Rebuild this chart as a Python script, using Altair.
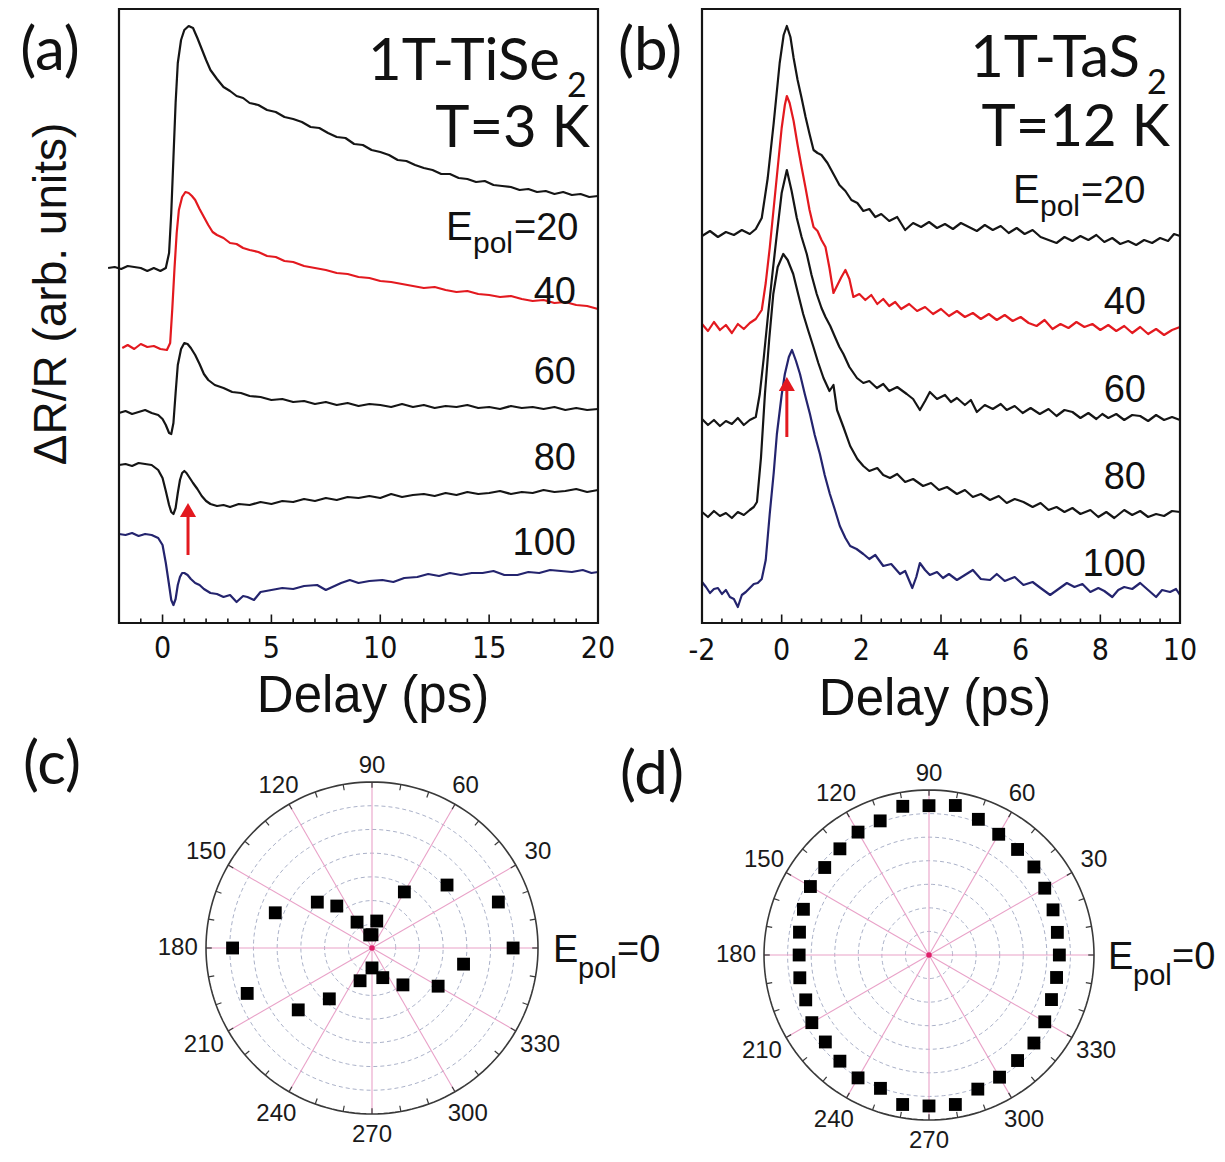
import math
import altair as alt
import pandas as pd

# ---------------- data : panel (a) 1T-TiSe2, T = 3 K  (delay ps, dR/R arb. units incl. offset) ----------------
a0 = [(-2.5,35.5),(-2.2,35.6),(-1.9,35.4),(-1.6,35.7),(-1.3,35.6),(-1.0,35.5),(-0.7,35.2),(-0.4,35.5),(-0.1,35.2),
      (0.15,35.5),(0.3,37.0),(0.4,41.0),(0.5,46.5),(0.6,52.0),(0.7,56.0),(0.85,58.3),(1.0,59.3),(1.2,59.7),(1.4,59.5),
      (1.6,58.5),(1.8,57.4),(2.0,56.3),(2.2,55.3),(2.5,54.4),(2.8,53.6),(3.1,53.2),(3.4,52.7),(3.7,52.5),(4.0,52.0),
      (4.4,51.8),(4.8,51.3),(5.2,51.1),(5.6,50.6),(6.0,50.4),(6.4,50.1),(6.8,49.6),(7.2,49.5),(7.6,49.0),(8.0,48.6),
      (8.4,48.5),(8.8,47.9),(9.2,47.8),(9.6,47.3),(10.0,47.1),(10.4,46.8),(10.8,46.3),(11.2,46.2),(11.6,45.8),(12.0,45.5),
      (12.4,45.3),(12.8,44.9),(13.2,44.9),(13.6,44.5),(14.0,44.4),(14.4,44.1),(14.8,44.2),(15.2,43.8),(15.6,43.7),
      (16.0,43.6),(16.4,43.3),(16.8,43.4),(17.2,43.1),(17.6,43.2),(18.0,42.9),(18.4,43.1),(18.8,42.8),(19.2,42.9),
      (19.6,42.6),(20.0,42.7)]
a1 = [(-1.85,27.5),(-1.6,27.8),(-1.3,27.4),(-1.0,27.9),(-0.7,27.6),(-0.4,27.7),(-0.1,27.4),(0.2,27.3),(0.35,28.0),
      (0.45,31.5),(0.55,35.5),(0.65,39.0),(0.75,41.3),(0.9,42.6),(1.05,43.1),(1.2,43.0),(1.35,42.7),(1.5,42.3),
      (1.7,41.4),(1.9,40.6),(2.1,39.8),(2.3,39.1),(2.5,38.8),(2.8,38.5),(3.1,38.0),(3.4,37.9),(3.7,37.5),(4.0,37.3),
      (4.4,37.1),(4.8,36.7),(5.2,36.6),(5.6,36.2),(6.0,36.1),(6.5,35.7),(7.0,35.5),(7.5,35.3),(8.0,35.0),(8.5,34.9),
      (9.0,34.6),(9.5,34.5),(10.0,34.2),(10.5,34.1),(11.0,33.9),(11.5,33.7),(12.0,33.5),(12.5,33.6),(13.0,33.3),
      (13.5,33.1),(14.0,33.2),(14.5,32.9),(15.0,32.8),(15.5,32.6),(16.0,32.7),(16.5,32.4),(17.0,32.2),(17.5,32.3),
      (18.0,32.0),(18.5,32.1),(19.0,31.8),(19.5,31.7),(20.0,31.4)]
a2 = [(-2.0,21.0),(-1.7,21.2),(-1.4,20.9),(-1.1,21.1),(-0.8,21.3),(-0.5,21.0),(-0.2,20.8),(0.0,20.4),(0.15,19.8),
      (0.3,19.0),(0.4,18.9),(0.5,20.0),(0.6,23.0),(0.7,25.8),(0.85,27.4),(1.0,28.0),(1.15,27.9),(1.3,27.5),(1.5,26.8),
      (1.7,25.9),(1.9,24.9),(2.1,24.3),(2.4,23.8),(2.8,23.5),(3.2,23.1),(3.6,23.0),(4.0,22.7),(4.5,22.6),(5.0,22.3),
      (5.5,22.4),(6.0,22.1),(6.5,22.2),(7.0,21.9),(7.5,22.1),(8.0,21.8),(8.5,22.0),(9.0,21.7),(9.5,21.9),(10.0,21.8),
      (10.5,21.6),(11.0,21.9),(11.5,21.6),(12.0,21.8),(12.5,21.5),(13.0,21.7),(13.5,21.6),(14.0,21.8),(14.5,21.5),
      (15.0,21.6),(15.5,21.4),(16.0,21.7),(16.5,21.5),(17.0,21.6),(17.5,21.4),(18.0,21.6),(18.5,21.3),(19.0,21.5),
      (19.5,21.3),(20.0,21.4)]
a3 = [(-2.0,15.8),(-1.7,15.9),(-1.4,15.7),(-1.1,16.0),(-0.8,15.9),(-0.5,15.8),(-0.2,15.3),(0.0,14.5),(0.15,13.2),
      (0.3,11.8),(0.4,11.1),(0.5,10.9),(0.6,11.5),(0.7,13.0),(0.8,14.3),(0.9,15.0),(1.0,15.2),(1.1,15.0),(1.25,14.5),
      (1.4,14.0),(1.6,13.4),(1.8,12.7),(2.0,12.2),(2.2,11.9),(2.5,11.7),(2.8,11.8),(3.1,11.6),(3.5,11.9),(4.0,11.8),
      (4.5,12.1),(5.0,11.9),(5.5,12.2),(6.0,12.1),(6.5,12.4),(7.0,12.2),(7.5,12.5),(8.0,12.3),(8.5,12.6),(9.0,12.5),
      (9.5,12.7),(10.0,12.5),(10.5,12.9),(11.0,12.6),(11.5,12.8),(12.0,12.9),(12.5,12.7),(13.0,13.0),(13.5,12.8),
      (14.0,13.1),(14.5,12.9),(15.0,13.0),(15.5,13.2),(16.0,12.9),(16.5,13.1),(17.0,13.0),(17.5,13.3),(18.0,13.1),
      (18.5,13.2),(19.0,13.4),(19.5,13.1),(20.0,13.3)]
a4 = [(-2.0,8.9),(-1.7,8.8),(-1.4,9.0),(-1.1,8.7),(-0.8,8.9),(-0.5,8.8),(-0.2,8.5),(0.0,7.8),(0.15,6.0),(0.3,3.8),
      (0.4,2.3),(0.5,1.8),(0.6,2.4),(0.7,3.8),(0.8,4.6),(0.9,5.0),(1.0,5.0),(1.15,4.8),(1.3,4.4),(1.5,4.0),(1.7,3.8),
      (1.9,3.4),(2.2,3.0),(2.5,2.9),(2.8,2.6),(3.1,2.8),(3.4,2.1),(3.7,2.7),(3.9,2.6),(4.2,2.3),(4.5,3.1),(5.0,3.3),
      (5.5,3.5),(6.0,3.4),(6.5,3.7),(7.1,3.8),(7.5,3.3),(7.8,3.6),(8.2,4.0),(8.6,4.3),(9.0,4.0),(9.5,4.2),(10.1,4.3),
      (10.6,4.1),(11.1,4.5),(11.7,4.6),(12.2,4.9),(12.7,4.7),(13.2,5.0),(13.7,4.8),(14.2,5.0),(14.7,5.0),(15.2,5.2),
      (15.7,4.8),(16.3,4.8),(16.8,5.1),(17.3,5.0),(17.8,5.3),(18.3,5.2),(18.8,5.1),(19.3,5.3),(19.7,5.0),(20.0,5.1)]

# ---------------- data : panel (b) 1T-TaS2, T = 12 K ----------------
b0 = [(-2.0,38.7),(-1.8,39.2),(-1.6,38.6),(-1.4,39.1),(-1.2,38.8),(-1.0,39.3),(-0.8,38.9),(-0.65,39.4),(-0.5,40.5),
      (-0.35,44.5),(-0.2,50.0),(-0.05,56.0),(0.05,58.8),(0.13,59.7),(0.22,58.6),(0.3,56.5),(0.4,54.3),(0.5,52.5),
      (0.6,50.6),(0.7,48.9),(0.8,47.3),(0.9,47.0),(1.0,46.8),(1.15,46.0),(1.3,44.9),(1.45,43.8),(1.6,43.2),(1.75,42.3),
      (1.9,42.0),(2.05,41.2),(2.2,41.4),(2.35,40.6),(2.5,40.9),(2.7,40.2),(2.9,40.6),(3.1,39.3),(3.3,40.0),(3.5,39.6),
      (3.7,40.1),(3.9,39.5),(4.1,39.9),(4.3,39.4),(4.5,40.0),(4.7,39.6),(4.9,39.2),(5.1,39.8),(5.3,39.3),(5.5,39.7),
      (5.7,39.0),(5.9,39.5),(6.1,38.9),(6.3,39.3),(6.5,38.6),(6.7,38.3),(6.9,38.0),(7.1,38.6),(7.3,38.2),(7.5,38.7),
      (7.7,38.3),(7.9,38.8),(8.1,38.1),(8.3,38.5),(8.5,37.9),(8.7,38.2),(8.9,37.8),(9.1,38.3),(9.3,38.0),(9.5,38.5),
      (9.7,38.2),(9.85,38.9),(10.0,38.7)]
b1 = [(-2.0,29.9),(-1.85,29.2),(-1.7,30.1),(-1.55,29.3),(-1.4,29.8),(-1.25,29.0),(-1.1,29.9),(-0.95,29.4),(-0.8,30.0),
      (-0.65,30.4),(-0.5,31.3),(-0.4,34.0),(-0.3,37.5),(-0.2,41.5),(-0.1,45.5),(0.0,49.5),(0.08,51.8),(0.13,52.7),
      (0.2,52.0),(0.3,50.2),(0.4,47.8),(0.5,45.6),(0.6,43.5),(0.7,41.3),(0.8,39.6),(0.9,39.2),(1.0,38.3),(1.1,37.6),
      (1.2,35.5),(1.3,33.0),(1.4,33.8),(1.5,34.6),(1.6,35.3),(1.7,34.4),(1.8,32.6),(1.95,32.9),(2.1,32.3),(2.25,32.8),
      (2.4,31.9),(2.55,32.4),(2.7,31.7),(2.85,32.1),(3.0,31.4),(3.2,31.9),(3.4,31.2),(3.6,31.6),(3.8,30.9),(4.0,31.4),
      (4.2,30.7),(4.4,31.2),(4.6,30.6),(4.8,31.0),(5.0,30.4),(5.2,30.9),(5.4,30.3),(5.6,30.8),(5.8,30.2),(6.0,30.6),
      (6.2,30.0),(6.4,29.7),(6.6,30.3),(6.8,29.4),(7.0,29.9),(7.2,29.5),(7.4,30.1),(7.6,29.6),(7.8,29.9),(8.0,29.3),
      (8.2,29.8),(8.4,29.2),(8.6,29.7),(8.8,29.0),(9.0,29.6),(9.2,28.9),(9.4,29.4),(9.6,28.8),(9.8,29.3),(10.0,29.6)]
b2 = [(-2.0,20.4),(-1.85,19.8),(-1.7,20.3),(-1.55,19.7),(-1.4,20.2),(-1.25,19.9),(-1.1,20.5),(-0.95,19.8),(-0.8,20.3),
      (-0.65,20.6),(-0.55,22.9),(-0.45,26.5),(-0.34,30.9),(-0.23,35.0),(-0.12,38.9),(0.0,43.0),(0.13,45.3),(0.25,43.2),
      (0.38,40.5),(0.5,38.6),(0.63,36.9),(0.75,34.8),(0.88,32.9),(1.0,31.5),(1.1,30.6),(1.22,29.7),(1.35,28.5),
      (1.45,27.6),(1.55,26.9),(1.7,25.6),(1.89,24.5),(2.05,24.0),(2.2,24.2),(2.39,23.5),(2.55,23.9),(2.7,23.2),
      (2.9,23.6),(3.14,22.9),(3.3,22.4),(3.47,21.3),(3.6,22.2),(3.72,23.1),(3.9,22.4),(4.1,22.8),(4.25,22.1),(4.4,22.5),
      (4.6,21.8),(4.75,22.3),(4.9,21.1),(5.1,21.8),(5.3,21.4),(5.5,21.9),(5.65,21.3),(5.85,21.7),(6.05,21.0),(6.25,21.5),
      (6.48,20.9),(6.7,21.4),(6.9,20.7),(7.1,21.3),(7.3,21.1),(7.5,20.5),(7.7,21.0),(7.9,20.4),(8.05,20.9),(8.2,20.5),
      (8.4,20.9),(8.6,20.3),(8.8,20.8),(9.0,20.7),(9.2,20.2),(9.4,20.8),(9.6,20.3),(9.8,20.6),(10.0,20.3)]
b3 = [(-2.0,11.1),(-1.85,10.6),(-1.7,11.2),(-1.55,10.7),(-1.4,11.0),(-1.25,10.5),(-1.1,11.1),(-0.95,10.8),(-0.8,11.3),
      (-0.7,11.6),(-0.62,12.1),(-0.52,16.5),(-0.42,22.9),(-0.31,28.5),(-0.21,32.9),(-0.1,35.6),(0.04,36.9),(0.15,36.3),
      (0.29,34.9),(0.42,32.8),(0.54,30.9),(0.67,29.2),(0.79,27.7),(0.92,26.0),(1.05,24.5),(1.2,23.2),(1.3,23.8),
      (1.39,21.3),(1.55,19.6),(1.72,17.7),(1.9,16.4),(2.05,15.7),(2.2,15.2),(2.4,15.5),(2.55,14.8),(2.72,14.5),
      (2.9,14.9),(3.1,14.1),(3.3,14.4),(3.55,13.7),(3.75,14.0),(3.95,13.3),(4.15,13.6),(4.4,12.9),(4.6,13.3),(4.8,12.6),
      (5.0,12.9),(5.23,12.3),(5.45,12.7),(5.65,12.0),(5.85,12.4),(6.07,12.1),(6.3,11.6),(6.5,12.0),(6.7,11.3),(6.9,11.6),
      (7.1,11.1),(7.3,11.5),(7.5,10.9),(7.75,11.3),(7.95,10.6),(8.15,11.1),(8.35,10.5),(8.6,11.3),(8.8,10.8),(9.0,11.2),
      (9.2,10.6),(9.4,10.9),(9.6,10.7),(9.8,11.2),(10.0,11.1)]
b4 = [(-2.0,4.1),(-1.9,3.6),(-1.8,3.0),(-1.7,3.4),(-1.6,3.5),(-1.5,2.9),(-1.4,3.3),(-1.3,2.6),(-1.2,2.4),(-1.1,1.6),
      (-1.05,2.2),(-1.0,2.8),(-0.9,3.1),(-0.8,3.5),(-0.7,3.9),(-0.6,4.0),(-0.5,4.4),(-0.4,6.3),(-0.3,10.9),(-0.2,15.0),
      (-0.12,18.9),(0.0,22.8),(0.08,24.9),(0.18,26.6),(0.26,27.3),(0.36,26.2),(0.46,24.9),(0.58,22.9),(0.71,20.9),
      (0.83,18.8),(0.96,16.9),(1.08,14.8),(1.21,12.9),(1.33,11.4),(1.46,9.7),(1.6,8.5),(1.72,7.7),(1.88,7.4),(2.05,6.9),
      (2.2,6.4),(2.35,6.8),(2.55,5.7),(2.75,5.9),(2.97,4.9),(3.1,5.2),(3.28,3.5),(3.38,4.6),(3.47,6.0),(3.6,5.3),
      (3.72,4.8),(3.9,5.1),(4.05,4.5),(4.2,4.9),(4.4,4.3),(4.6,4.8),(4.8,5.3),(5.0,4.4),(5.23,4.3),(5.4,4.9),(5.6,4.2),
      (5.85,4.6),(6.07,3.8),(6.3,4.1),(6.5,3.5),(6.74,2.8),(6.95,3.4),(7.16,4.0),(7.35,3.6),(7.55,3.9),(7.75,3.1),
      (7.95,3.5),(8.1,3.2),(8.3,2.6),(8.45,3.3),(8.6,3.6),(8.8,3.4),(9.0,4.0),(9.2,3.3),(9.4,2.6),(9.55,3.3),(9.75,3.1),
      (9.9,3.4),(10.0,2.8)]

# axis ticks
a_major = [0, 5, 10, 15, 20]
a_minor = [-2, -1, 1, 2, 3, 4, 6, 7, 8, 9, 11, 12, 13, 14, 16, 17, 18, 19]
b_major = [-2, 0, 2, 4, 6, 8, 10]
b_minor = [-1.5, -1, -0.5, 0.5, 1, 1.5, 2.5, 3, 3.5, 4.5, 5, 5.5, 6.5, 7, 7.5, 8.5, 9, 9.5]

# ---------------- data : polar panels (angle deg, normalised amplitude) ----------------
c_angle = [0, 20, 40, 60, 80, 90, 100, 120, 130, 140, 160, 180, 200, 220, 230, 250, 270, 290, 310, 330, 350]
c_r = [0.85, 0.81, 0.59, 0.39, 0.165, 0.08, 0.08, 0.18, 0.33, 0.43, 0.62, 0.84, 0.80, 0.58, 0.40, 0.21, 0.12,
       0.19, 0.29, 0.46, 0.56]
d_angle = list(range(0, 360, 10))
d_r = [0.79, 0.79, 0.80, 0.81, 0.83, 0.835, 0.845, 0.875, 0.92, 0.905, 0.915, 0.865, 0.86, 0.84, 0.825, 0.83,
       0.81, 0.797, 0.787, 0.795, 0.795, 0.82, 0.82, 0.84, 0.86, 0.86, 0.92, 0.915, 0.92, 0.865, 0.855, 0.835,
       0.83, 0.81, 0.79, 0.785]
polar_labels = [30, 60, 90, 120, 150, 180, 210, 240, 270, 300, 330]
grid_r = [1/7, 2/7, 3/7, 4/7, 5/7, 6/7]

# ---------------- styling ----------------
ARIAL = "Liberation Sans, Arial, sans-serif"
NARROW = "Liberation Sans Narrow, Arial Narrow, DejaVu Sans Condensed, Liberation Sans, sans-serif"
CAL = "Lato, Open Sans, sans-serif"
BLACK = "#151515"
RED = "#e3191f"
BLUE = "#24246e"
W, H = 1209, 1146


def S(dom, rng):
    return alt.Scale(domain=dom, range=rng, nice=False, zero=False)


XA = S([-2, 20], [111, 590])
XB = S([-2, 10], [694, 1172])
YT = S([0, 61.4], [615, 1])

ONE = pd.DataFrame({"k": [0]})
layers = []


def txt(s, x, y, size, font=ARIAL, align="left", baseline="alphabetic", color="#111", angle=None):
    kw = dict(text=s, fontSize=size, font=font, align=align, baseline=baseline, color=color)
    if angle is not None:
        kw["angle"] = angle
    return alt.Chart(ONE).mark_text(**kw).encode(x=alt.value(x - 8), y=alt.value(y - 8))


def trace(pairs, xs, color):
    df = pd.DataFrame(pairs, columns=["delay", "value"])
    return alt.Chart(df).mark_line(color=color, strokeWidth=2.2, strokeJoin="round").encode(
        x=alt.X("delay:Q", scale=xs, axis=None), y=alt.Y("value:Q", scale=YT, axis=None))


def frame(xs, x0, x1):
    df = pd.DataFrame({"x0": [x0], "x1": [x1], "y0": [0.0], "y1": [61.4]})
    return alt.Chart(df).mark_rect(fillOpacity=0, stroke=BLACK, strokeWidth=2.2).encode(
        x=alt.X("x0:Q", scale=xs, axis=None), x2="x1:Q",
        y=alt.Y("y0:Q", scale=YT, axis=None), y2="y1:Q")


def ticks(xs, major, minor, lab_y):
    df = pd.DataFrame({"t": major + minor, "y0": [0.0] * (len(major) + len(minor)),
                       "y1": [0.85] * len(major) + [0.45] * len(minor)})
    r = alt.Chart(df).mark_rule(color=BLACK, strokeWidth=1.6).encode(
        x=alt.X("t:Q", scale=xs, axis=None), y=alt.Y("y0:Q", scale=YT, axis=None), y2="y1:Q")
    ldf = pd.DataFrame({"t": major, "lab": [str(m) for m in major]})
    t = alt.Chart(ldf).mark_text(font=NARROW, fontSize=30, baseline="middle", color="#111").encode(
        x=alt.X("t:Q", scale=xs, axis=None), y=alt.value(lab_y - 8), text="lab:N")
    return [r, t]


def arrow(xs, x, v0, v1, vhead):
    df = pd.DataFrame({"x": [x], "v0": [v0], "v1": [v1], "vh": [vhead]})
    shaft = alt.Chart(df).mark_rule(color=RED, strokeWidth=3).encode(
        x=alt.X("x:Q", scale=xs, axis=None), y=alt.Y("v0:Q", scale=YT, axis=None), y2="v1:Q")
    head = alt.Chart(df).mark_point(shape="triangle-up", filled=True, color=RED, size=260, opacity=1).encode(
        x=alt.X("x:Q", scale=xs, axis=None), y=alt.Y("vh:Q", scale=YT, axis=None))
    return [shaft, head]


# ---------- panel (a) ----------
for pairs, col in [(a0, BLACK), (a1, RED), (a2, BLACK), (a3, BLACK), (a4, BLUE)]:
    layers.append(trace(pairs, XA, col))
layers.append(frame(XA, -2, 20))
layers += ticks(XA, a_major, a_minor, 649)
layers += arrow(XA, 1.17, 6.8, 11.0, 11.3)

# ---------- panel (b) ----------
for pairs, col in [(b0, BLACK), (b1, RED), (b2, BLACK), (b3, BLACK), (b4, BLUE)]:
    layers.append(trace(pairs, XB, col))
layers.append(frame(XB, -2, 10))
layers += ticks(XB, b_major, b_minor, 651)
layers += arrow(XB, 0.13, 18.6, 23.2, 23.9)

# ---------- text for (a) and (b) ----------
layers += [
    txt("(a)", 50, 70, 60, font=CAL, align="center"),
    txt("(b)", 650, 70, 60, font=CAL, align="center"),
    txt("ΔR/R (arb. units)", 52, 294, 46, align="center", baseline="middle", angle=270),
    txt("Delay (ps)", 373, 697, 51, align="center", baseline="middle"),
    txt("Delay (ps)", 935, 700, 51, align="center", baseline="middle"),
    txt("1T-TiSe", 560, 80, 58, font=CAL, align="right"),
    txt("2", 567, 97, 34, font=CAL),
    txt("T=3 K", 590, 147, 58, font=CAL, align="right"),
    txt("1T-TaS", 1140, 77, 58, font=CAL, align="right"),
    txt("2", 1147, 94, 34, font=CAL),
    txt("T=12 K", 1170, 146, 58, font=CAL, align="right"),
]
for (ex, ey) in [(446, 240), (1013, 203)]:
    layers += [txt("E", ex, ey, 40), txt("pol", ex + 27, ey + 13, 30), txt("=20", ex + 68, ey, 38)]
for lab, y in [("40", 304), ("60", 384), ("80", 470), ("100", 555)]:
    layers.append(txt(lab, 576, y, 38, align="right"))
for lab, y in [("40", 314), ("60", 402), ("80", 489), ("100", 576)]:
    layers.append(txt(lab, 1146, y, 38, align="right"))


# ---------- polar panels ----------
def polar(cx, cy, R, angles, radii):
    xs = S([-1, 1], [cx - 8 - R, cx - 8 + R])
    ys = S([-1, 1], [cy - 8 + R, cy - 8 - R])
    out = []
    # dashed grid circles
    rows = [{"ring": i, "r": g, "deg": d} for i, g in enumerate(grid_r) for d in range(0, 361, 3)]
    out.append(alt.Chart(pd.DataFrame(rows)).transform_calculate(
        px="datum.r*cos(datum.deg*PI/180)", py="datum.r*sin(datum.deg*PI/180)"
    ).mark_line(color="#8d97b5", strokeWidth=1, strokeDash=[4, 3], opacity=0.75).encode(
        x=alt.X("px:Q", scale=xs, axis=None), y=alt.Y("py:Q", scale=ys, axis=None),
        detail="ring:N", order="deg:Q"))
    # radial spokes
    spokes = pd.DataFrame({"ang": list(range(0, 360, 30))})
    out.append(alt.Chart(spokes).transform_calculate(
        ex="cos(datum.ang*PI/180)", ey="sin(datum.ang*PI/180)", zx="0", zy="0"
    ).mark_rule(color="#e9a2c8", strokeWidth=1.1).encode(
        x=alt.X("ex:Q", scale=xs, axis=None), y=alt.Y("ey:Q", scale=ys, axis=None), x2="zx:Q", y2="zy:Q"))
    # outer circle
    orow = pd.DataFrame({"deg": list(range(0, 361, 2)), "r": [1.0] * 181})
    out.append(alt.Chart(orow).transform_calculate(
        px="datum.r*cos(datum.deg*PI/180)", py="datum.r*sin(datum.deg*PI/180)"
    ).mark_line(color="#3a3a3a", strokeWidth=1.6).encode(
        x=alt.X("px:Q", scale=xs, axis=None), y=alt.Y("py:Q", scale=ys, axis=None), order="deg:Q"))
    # small ticks on outer circle
    tk = pd.DataFrame({"ang": list(range(0, 360, 10))})
    out.append(alt.Chart(tk).transform_calculate(
        x1="cos(datum.ang*PI/180)", y1="sin(datum.ang*PI/180)",
        x0="0.965*cos(datum.ang*PI/180)", y0="0.965*sin(datum.ang*PI/180)"
    ).mark_rule(color="#3a3a3a", strokeWidth=1.2).encode(
        x=alt.X("x1:Q", scale=xs, axis=None), y=alt.Y("y1:Q", scale=ys, axis=None), x2="x0:Q", y2="y0:Q"))
    # centre dot
    out.append(alt.Chart(ONE).transform_calculate(zx="0", zy="0").mark_point(
        filled=True, color="#e0206a", size=30, opacity=1).encode(
        x=alt.X("zx:Q", scale=xs, axis=None), y=alt.Y("zy:Q", scale=ys, axis=None)))
    # data squares
    pdf = pd.DataFrame({"ang": angles, "r": radii})
    out.append(alt.Chart(pdf).transform_calculate(
        px="datum.r*cos(datum.ang*PI/180)", py="datum.r*sin(datum.ang*PI/180)"
    ).mark_square(color="#000", size=165, opacity=1).encode(
        x=alt.X("px:Q", scale=xs, axis=None), y=alt.Y("py:Q", scale=ys, axis=None)))
    # angle labels
    ldf = pd.DataFrame({"ang": polar_labels})
    out.append(alt.Chart(ldf).transform_calculate(
        lr="1.11 + 0.06*abs(cos(datum.ang*PI/180)) - 0.015*sin(datum.ang*PI/180)",
        lx="datum.lr*cos(datum.ang*PI/180)", ly="datum.lr*sin(datum.ang*PI/180)",
        lab="toString(datum.ang)"
    ).mark_text(font=ARIAL, fontSize=24, baseline="middle", color="#1a1a1a").encode(
        x=alt.X("lx:Q", scale=xs, axis=None), y=alt.Y("ly:Q", scale=ys, axis=None), text="lab:N"))
    return out


layers += polar(372, 948, 166, c_angle, c_r)
layers += polar(929, 955, 165, d_angle, d_r)
layers += [
    txt("(c)", 52, 784, 60, font=CAL, align="center"),
    txt("(d)", 652, 794, 60, font=CAL, align="center"),
]
for (ex, ey) in [(553, 962), (1108, 969)]:
    layers += [txt("E", ex, ey, 38), txt("pol", ex + 25, ey + 16, 29), txt("=0", ex + 64, ey, 38)]

chart = alt.layer(*layers).resolve_scale(x="independent", y="independent").properties(
    width=W, height=H, padding=0, autosize=alt.AutoSizeParams(type="none"), background="white"
).configure_view(strokeWidth=0)

chart.save("out.html", embed_options={"renderer": "svg", "actions": False})
